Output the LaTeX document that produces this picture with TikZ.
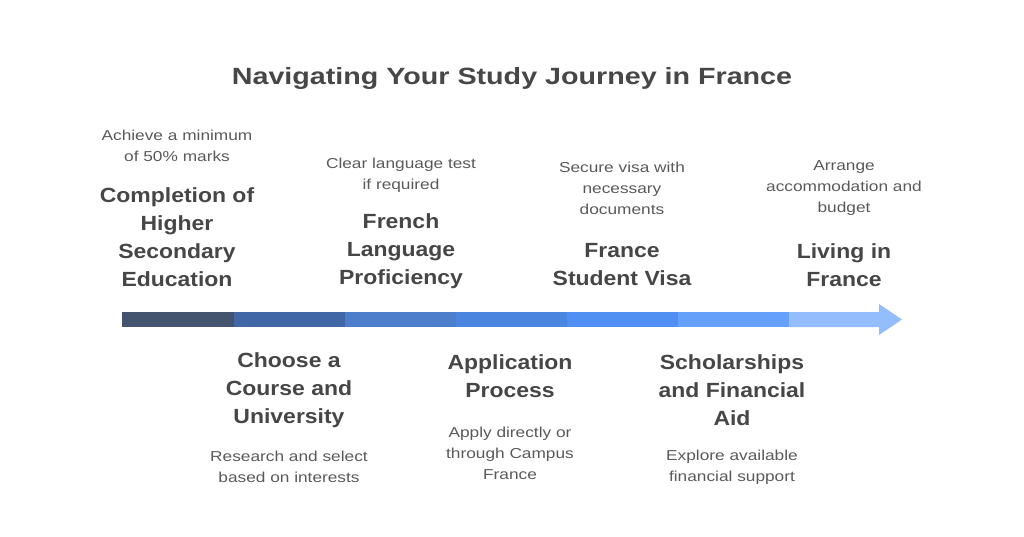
\documentclass[tikz,border=0pt]{standalone}
\usepackage{fontspec}
\setmainfont{Liberation Sans}
\definecolor{titlecol}{HTML}{474747}
\definecolor{headcol}{HTML}{464646}
\definecolor{desccol}{HTML}{5A5A5A}
\definecolor{segA}{HTML}{44546F}
\definecolor{segB}{HTML}{4267A6}
\definecolor{segC}{HTML}{4C7ECC}
\definecolor{segD}{HTML}{4A86E0}
\definecolor{segE}{HTML}{4F90F2}
\definecolor{segF}{HTML}{65A1FA}
\definecolor{segG}{HTML}{94BDFE}
\tikzset{
  stretch/.style={inner sep=0pt, align=center},
  titletext/.style={stretch, xscale=1.22, font=\bfseries\fontsize{23.5}{28}\selectfont, text=titlecol},
  headtext/.style={stretch, xscale=1.12, font=\bfseries\fontsize{20.5}{28}\selectfont, text=headcol},
  desctext/.style={stretch, xscale=1.2, font=\fontsize{14.4}{21}\selectfont, text=desccol},
}
\begin{document}
\begin{tikzpicture}[x=1pt,y=-1pt]
\useasboundingbox[fill=white] (0,0) rectangle (1024,536);

% title
\node[titletext] (title) at (512,78) {Navigating Your Study Journey in France};

% timeline band
\fill[segA] (122,312) rectangle (234,327);
\fill[segB] (234,312) rectangle (345,327);
\fill[segC] (345,312) rectangle (456,327);
\fill[segD] (456,312) rectangle (567,327);
\fill[segE] (567,312) rectangle (678,327);
\fill[segF] (678,312) rectangle (789,327);
\fill[segG] (789,312) -- (879,312) -- (879,304) -- (902,319.5) -- (879,335) -- (879,327) -- (789,327) -- cycle;

% top entries
\node[desctext] (d1) at (177,146) {Achieve a minimum\\of 50\% marks};
\node[headtext] (h1) at (177,237) {Completion of\\Higher\\Secondary\\Education};

\node[desctext] (d3) at (401,175) {Clear language test\\if required};
\node[headtext] (h3) at (401,251) {French\\Language\\Proficiency};

\node[desctext] (d5) at (622,188) {Secure visa with\\necessary\\documents};
\node[headtext] (h5) at (622,265) {France\\Student Visa};

\node[desctext] (d7) at (844,188) {Arrange\\accommodation and\\budget};
\node[headtext] (h7) at (844,265) {Living in\\France};

% bottom entries
\node[headtext] (h2) at (289,390) {Choose a\\Course and\\University};
\node[desctext] (d2) at (289,467) {Research and select\\based on interests};

\node[headtext] (h4) at (510,376) {Application\\Process};
\node[desctext] (d4) at (510,453) {Apply directly or\\through Campus\\France};

\node[headtext] (h6) at (732,390) {Scholarships\\and Financial\\Aid};
\node[desctext] (d6) at (732,467) {Explore available\\financial support};
\end{tikzpicture}
\end{document}
